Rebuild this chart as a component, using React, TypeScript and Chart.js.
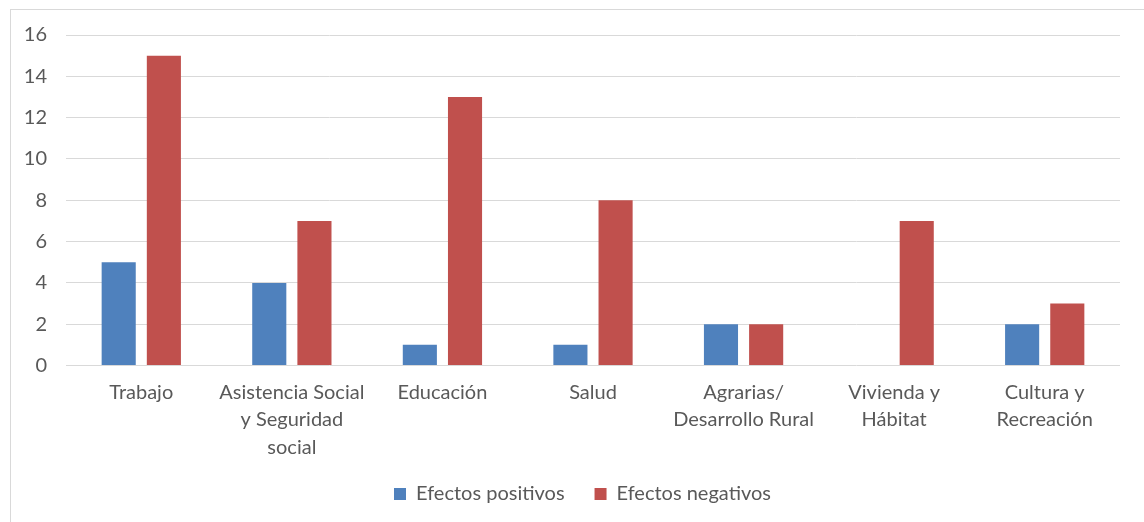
import React, { useEffect, useRef } from "react";
import { Chart, registerables } from "chart.js";

Chart.register(...registerables);

const categories: string[][] = [
  ["Trabajo"],
  ["Asistencia Social", "y Seguridad", "social"],
  ["Educación"],
  ["Salud"],
  ["Agrarias/", "Desarrollo Rural"],
  ["Vivienda y", "Hábitat"],
  ["Cultura y", "Recreación"],
];
const efectosPositivos = [5, 4, 1, 1, 2, 0, 2];
const efectosNegativos = [15, 7, 13, 8, 2, 7, 3];
const seriesNames = ["Efectos positivos", "Efectos negativos"];

const FONT = "Lato";
const TEXT = "#595959";

const legendShift = {
  id: "legendShift",
  afterLayout(chart: any) {
    if (chart.legend) {
      chart.legend.left += 12;
      chart.legend.right += 12;
    }
  },
};

export default function App() {
  const ref = useRef<HTMLCanvasElement | null>(null);
  useEffect(() => {
    document.body.style.overflow = "hidden";
    if (!ref.current) return;
    const chart = new Chart(ref.current, {
      type: "bar",
      data: {
        labels: categories,
        datasets: [
          {
            label: seriesNames[0],
            data: efectosPositivos,
            backgroundColor: "#4F81BD",
            categoryPercentage: 0.6,
            barPercentage: 0.755,
          },
          {
            label: seriesNames[1],
            data: efectosNegativos,
            backgroundColor: "#C0504D",
            categoryPercentage: 0.6,
            barPercentage: 0.755,
          },
        ],
      },
      options: {
        responsive: false,
        animation: false,
        layout: { padding: { left: 10, right: 24, top: 10, bottom: 10 } },
        plugins: {
          tooltip: { enabled: false },
          legend: {
            position: "bottom",
            labels: {
              boxWidth: 12,
              boxHeight: 12,
              padding: 30,
              color: TEXT,
              font: { family: FONT, size: 20 },
            },
          },
        },
        scales: {
          x: {
            grid: { display: false },
            border: { display: false },
            ticks: {
              color: TEXT,
              padding: 5,
              maxRotation: 0,
              autoSkip: false,
              font: { family: FONT, size: 20, lineHeight: 1.375 },
            },
            afterFit: (s: any) => {
              s.height = 88.5;
            },
          },
          y: {
            min: 0,
            max: 16,
            border: { display: false },
            grid: { color: "#D9D9D9", drawTicks: false, lineWidth: 1 },
            ticks: {
              stepSize: 2,
              color: TEXT,
              padding: 19,
              font: { family: FONT, size: 20, lineHeight: 0.6 },
            },
            afterFit: (s: any) => {
              s.width = 45;
            },
          },
        },
      },
      plugins: [legendShift],
    });
    return () => chart.destroy();
  }, []);
  return (
    <div
      style={{
        position: "absolute",
        left: 10,
        top: 9,
        width: 1160,
        height: 560,
        border: "1px solid #D9D9D9",
        background: "#fff",
      }}
    >
      <canvas ref={ref} width={1133} height={514} style={{ display: "block" }} />
    </div>
  );
}
